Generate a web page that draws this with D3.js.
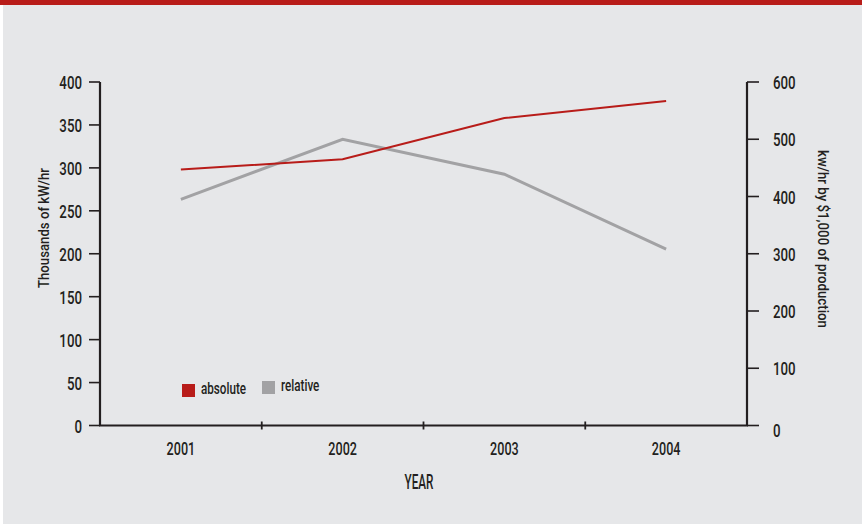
<!DOCTYPE html>
<meta charset="utf-8">
<head>
    <title>Energy consumption</title>
    <script src="https://cdn.jsdelivr.net/npm/d3@7"></script>
    <style>
        body { margin: 0; background: #fff; }
        svg text { font-family: Roboto, "DejaVu Sans", sans-serif; font-weight: 500; fill: #231f20; }
    </style>
</head>
<body>
    <div id="chart"></div>
    <script>
        // data
        const years = ["2001", "2002", "2003", "2004"];
        const absolute = [298, 310, 358, 378];   // thousands of kW/hr (left axis)
        const relative = [395, 500, 439, 308];   // kw/hr by $1,000 (right axis)
        const leftTicks = [0, 50, 100, 150, 200, 250, 300, 350, 400];
        const rightTicks = [0, 100, 200, 300, 400, 500, 600];

        const width = 862, height = 524;
        const x0 = 100, x1 = 747, yTop = 82, yBot = 425.5;
        const red = "#b81c19", grey = "#a2a2a4", ink = "#231f20";

        const svg = d3.select("#chart").append("svg")
            .attr("width", width)
            .attr("height", height);

        // the original uses a condensed face, so squeeze a normal one horizontally
        function label(g, tx, ty, txt, size, sx, anchor, rot) {
            return g.append("text")
                .attr("transform", "translate(" + tx + "," + ty + ")" + (rot ? " rotate(" + rot + ")" : "") + " scale(" + sx + ",1)")
                .attr("text-anchor", anchor || "start")
                .attr("font-size", size)
                .text(txt);
        }

        // backdrop + red band on top
        svg.append("rect").attr("x", 3).attr("y", 0).attr("width", width - 3).attr("height", height).attr("fill", "#e6e7e9");
        svg.append("rect").attr("x", 0).attr("y", 0).attr("width", width).attr("height", 5).attr("fill", red);

        const x = d3.scaleBand().domain(years).range([x0, x1]);
        const yL = d3.scaleLinear().domain([0, 400]).range([yBot, yTop]);
        const yR = d3.scaleLinear().domain([0, 600]).range([yBot, yTop]);

        // left axis
        const gL = svg.append("g");
        gL.append("line").attr("x1", x0).attr("x2", x0).attr("y1", yTop).attr("y2", yBot)
            .attr("stroke", ink).attr("stroke-width", 2.2);
        gL.selectAll(".t").data(leftTicks).enter().append("line")
            .attr("x1", x0 - 11).attr("x2", x0).attr("y1", d => yL(d)).attr("y2", d => yL(d))
            .attr("stroke", ink).attr("stroke-width", 1.6);
        leftTicks.forEach(d => label(gL, 82, yL(d) + 7, d, 19, 0.7, "end"));

        // right axis
        const gR = svg.append("g");
        gR.append("line").attr("x1", x1).attr("x2", x1).attr("y1", yTop).attr("y2", yBot)
            .attr("stroke", ink).attr("stroke-width", 2.2);
        gR.selectAll(".t").data(rightTicks).enter().append("line")
            .attr("x1", x1).attr("x2", x1 + 12).attr("y1", d => yR(d)).attr("y2", d => yR(d))
            .attr("stroke", ink).attr("stroke-width", 1.6);
        rightTicks.forEach(d => label(gR, 773, yR(d) + 7 + (d === 0 ? 4 : 0), d, 19, 0.7, "start"));

        // bottom axis
        const gB = svg.append("g");
        gB.append("line").attr("x1", x0 - 1).attr("x2", x1 + 1).attr("y1", yBot).attr("y2", yBot)
            .attr("stroke", ink).attr("stroke-width", 2.2);
        gB.selectAll(".t").data(years.slice(1)).enter().append("line")
            .attr("x1", d => x(d)).attr("x2", d => x(d)).attr("y1", yBot - 4).attr("y2", yBot + 4)
            .attr("stroke", ink).attr("stroke-width", 1.8);
        years.forEach(d => label(gB, x(d) + x.bandwidth() / 2, 455, d, 18.5, 0.68, "middle"));

        // axis titles
        label(svg, 419, 489, "YEAR", 19.5, 0.6, "middle");
        svg.append("text").attr("transform", "translate(49,228) rotate(-90)")
            .attr("text-anchor", "middle").attr("font-size", 15.5)
            .attr("textLength", 120).attr("lengthAdjust", "spacingAndGlyphs")
            .text("Thousands of kW/hr");
        svg.append("text").attr("transform", "translate(818,239) rotate(90)")
            .attr("text-anchor", "middle").attr("font-size", 15.5)
            .attr("textLength", 178).attr("lengthAdjust", "spacingAndGlyphs")
            .text("kw/hr by $1,000 of production");

        // lines
        const cx = d => x(d) + x.bandwidth() / 2;
        const lineL = d3.line().x((d, i) => cx(years[i])).y(d => yL(d));
        const lineR = d3.line().x((d, i) => cx(years[i])).y(d => yR(d));
        svg.append("path").datum(relative).attr("d", lineR)
            .attr("fill", "none").attr("stroke", grey).attr("stroke-width", 3);
        svg.append("path").datum(absolute).attr("d", lineL)
            .attr("fill", "none").attr("stroke", red).attr("stroke-width", 2);

        // legend
        const legend = [
            { name: "absolute", color: red, x: 182, y: 384 },
            { name: "relative", color: grey, x: 262, y: 381 }
        ];
        const lg = svg.append("g");
        legend.forEach(d => {
            lg.append("rect").attr("x", d.x).attr("y", d.y).attr("width", 13).attr("height", 13).attr("fill", d.color);
            label(lg, d.x + 19, d.y + 9.5, d.name, 16, 0.73, "start");
        });
    </script>
</body>
</html>
